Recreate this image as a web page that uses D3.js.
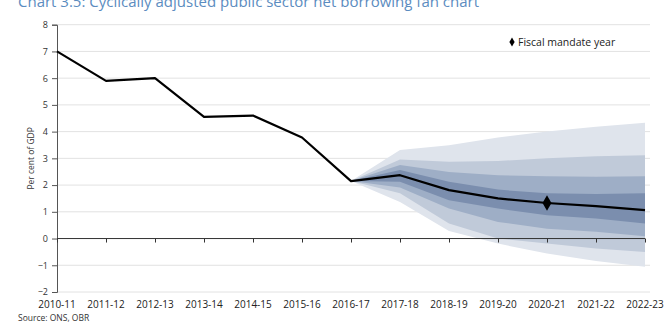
<!DOCTYPE html>
<html>
<head>
<meta charset="utf-8">
<script src="https://cdn.jsdelivr.net/npm/d3@7"></script>
<style>
  body { margin: 0; background: #fff; }
  text { font-family: "Open Sans", "Lato", sans-serif; }
</style>
</head>
<body>
<div id="chart"></div>
<script>
var years = ['2010-11', '2011-12', '2012-13', '2013-14', '2014-15', '2015-16', '2016-17',
             '2017-18', '2018-19', '2019-20', '2020-21', '2021-22', '2022-23'];
// central projection (outturn to 2016-17, then median)
var central = [7.0, 5.9, 6.0, 4.55, 4.6, 3.78, 2.15, 2.37, 1.81, 1.5, 1.33, 1.21, 1.06];

// fan bands start at 2016-17
var fanYears = ['2016-17', '2017-18', '2018-19', '2019-20', '2020-21', '2021-22', '2022-23'];
var band1Hi = [2.15, 3.31, 3.49, 3.78, 4.0, 4.18, 4.33];
var band1Lo = [2.15, 1.37, 0.28, -0.19, -0.56, -0.84, -1.06];
var band2Hi = [2.15, 2.96, 2.87, 2.9, 3.0, 3.08, 3.12];
var band2Lo = [2.15, 1.69, 0.56, 0.0, -0.19, -0.37, -0.5];
var band3Hi = [2.15, 2.75, 2.49, 2.37, 2.33, 2.31, 2.33];
var band3Lo = [2.15, 1.91, 1.12, 0.62, 0.37, 0.25, 0.09];
var band4Hi = [2.15, 2.56, 2.12, 1.83, 1.69, 1.67, 1.69];
var band4Lo = [2.15, 2.12, 1.43, 1.12, 0.87, 0.75, 0.56];

var mandateYear = '2020-21';
var yTicks = [-2, -1, 0, 1, 2, 3, 4, 5, 6, 7, 8];

var width = 670, height = 323;
var margin = { top: 24.7, right: 25, bottom: 31, left: 57 };

var svg = d3.select("#chart").append("svg")
    .attr("width", width)
    .attr("height", height);

var x = d3.scalePoint()
    .domain(years)
    .range([margin.left, width - margin.right]);

var y = d3.scaleLinear()
    .domain([-2, 8])
    .range([height - margin.bottom, margin.top]);

// title (cropped at top of picture, as in the source image)
svg.append("text")
    .attr("x", 18).attr("y", 7)
    .text("Chart 3.5: Cyclically adjusted public sector net borrowing fan chart")
    .style("font-size", "15px").style("fill", "#5b8cc0");

// gridlines
svg.append("g").selectAll("line")
    .data(yTicks.filter(function (d) { return d != 0; }))
    .enter().append("line")
    .attr("x1", margin.left).attr("x2", width - margin.right + 5)
    .attr("y1", function (d) { return y(d); })
    .attr("y2", function (d) { return y(d); })
    .attr("stroke", "#e2e2e2").attr("stroke-width", 1);

// fan bands
var bands = [
    { hi: band1Hi, lo: band1Lo, color: "#dfe4ec" },
    { hi: band2Hi, lo: band2Lo, color: "#c0cad9" },
    { hi: band3Hi, lo: band3Lo, color: "#9eaec6" },
    { hi: band4Hi, lo: band4Lo, color: "#7b8eae" }
];
var area = d3.area()
    .x(function (d) { return x(d.year); })
    .y0(function (d) { return y(d.lo); })
    .y1(function (d) { return y(d.hi); });

svg.append("g").selectAll("path")
    .data(bands)
    .enter().append("path")
    .attr("d", function (b) {
        return area(fanYears.map(function (yr, i) { return { year: yr, hi: b.hi[i], lo: b.lo[i] }; }));
    })
    .attr("fill", function (b) { return b.color; });

// y axis
var yAxis = d3.axisLeft(y).tickValues(yTicks).tickSize(5).tickFormat(d3.format("d"));
var gy = svg.append("g")
    .attr("transform", "translate(" + margin.left + ",0)")
    .call(yAxis);
gy.select(".domain").attr("stroke", "#555");
gy.selectAll(".tick line").attr("stroke", "#555");
gy.selectAll("text").style("font-size", "9px").style("fill", "#333")
    .style("font-family", "'Open Sans', sans-serif").attr("x", -9);

// zero line with ticks
var xAxis = d3.axisBottom(x).tickSize(4).tickFormat("");
var gx = svg.append("g")
    .attr("transform", "translate(0," + y(0) + ")")
    .call(xAxis);
gx.select(".domain").attr("stroke", "#333").attr("d", "M" + margin.left + ",0H" + (width - margin.right));
gx.selectAll(".tick line").attr("stroke", "#333");

// category labels at bottom
svg.append("g").selectAll("text")
    .data(years)
    .enter().append("text")
    .attr("x", function (d) { return x(d); })
    .attr("y", height - 15)
    .attr("text-anchor", "middle")
    .text(function (d) { return d; })
    .style("font-size", "10px").style("fill", "#222");

// y axis title
svg.append("text")
    .attr("transform", "translate(34," + y(3) + ") rotate(-90)")
    .attr("text-anchor", "middle")
    .text("Per cent of GDP")
    .style("font-size", "8.5px").style("fill", "#333");

// central line
var line = d3.line()
    .x(function (d, i) { return x(years[i]); })
    .y(function (d) { return y(d); });
svg.append("path")
    .datum(central)
    .attr("d", line)
    .attr("fill", "none")
    .attr("stroke", "#000")
    .attr("stroke-width", 2.2)
    .attr("stroke-linejoin", "round");

// fiscal mandate marker
var diamond = d3.symbol().type(d3.symbolDiamond).size(70);
svg.append("path")
    .attr("d", diamond)
    .attr("transform", "translate(" + x(mandateYear) + "," + y(central[years.indexOf(mandateYear)]) + ")")
    .attr("fill", "#000");

// legend
svg.append("path")
    .attr("d", d3.symbol().type(d3.symbolDiamond).size(24))
    .attr("transform", "translate(512,42)")
    .attr("fill", "#000");
svg.append("text")
    .attr("x", 518).attr("y", 45.5)
    .text("Fiscal mandate year")
    .style("font-size", "10.5px").style("fill", "#222");

// source
svg.append("text")
    .attr("x", 18).attr("y", 320.5)
    .text("Source: ONS, OBR")
    .style("font-size", "8.5px").style("fill", "#333");
</script>
</body>
</html>
